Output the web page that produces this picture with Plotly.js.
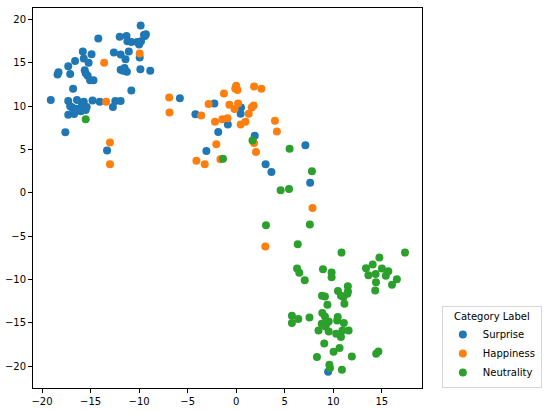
<!DOCTYPE html>
<html>
<head>
<meta charset="utf-8">
<script src="https://cdn.plot.ly/plotly-3.0.1.min.js"></script>
<style>html,body{margin:0;padding:0;background:#fff;}#chart{width:550px;height:411px;}</style>
</head>
<body>
<div id="chart"></div>
<script>
const categories = ["Surprise", "Happiness", "Neutrality"];
const colors = ["#1f77b4", "#ff7f0e", "#2ca02c"];

const surpriseX = [-9.84,-14.2,-12.0,-11.3,-11.2,-10.8,-10.2,-10.0,-9.8,-9.5,-9.3,-9.4,-9.94,-12.6,-11.9,-11.06,-11.4,-15.8,-14.9,-15.7,-15.2,-16.6,-17.3,-17.1,-18.3,-18.4,-15.6,-15.5,-15.3,-15.05,-14.7,-11.9,-11.5,-11.26,-11.65,-9.87,-8.85,-10.8,-16.8,-19.1,-17.3,-16.4,-15.7,-14.8,-14.06,-12.45,-11.9,-17.1,-16.9,-16.5,-15.9,-15.4,-15.5,-16.0,-17.3,-16.7,-12.7,-17.6,-5.8,-4.2,-2.25,0.5,0.46,-0.86,-1.85,1.91,-3.07,7.13,3.03,3.63,7.62,9.47,-13.3];
const surpriseY = [19.3,17.8,18.0,18.1,17.5,17.4,17.4,17.1,17.5,18.2,18.3,18.1,15.6,16.2,15.96,16.3,15.4,16.3,16.0,15.5,15.0,15.2,14.6,13.7,13.9,13.65,14.15,13.8,13.5,13.0,13.0,14.2,14.4,13.96,14.07,14.27,14.07,11.8,12.0,10.7,10.6,10.7,10.5,10.66,10.5,10.6,10.6,10.0,9.86,9.7,10.1,9.9,9.55,9.4,9.0,9.1,9.9,7.0,10.9,9.08,10.3,9.86,9.12,7.9,7.01,6.59,4.82,5.48,3.29,2.41,1.18,-20.62,4.9];

const happinessX = [-9.94,-13.6,-13.4,-6.9,-6.87,-3.6,0.0,0.13,-0.1,1.84,2.6,-1.26,-2.84,-0.7,0.2,-0.17,1.6,1.8,1.29,-1.43,-0.9,-2.18,0.46,0.95,3.99,4.19,1.84,2.04,-2.05,-4.1,-3.24,-1.62,7.86,3.0,-13.0,-13.0];
const happinessY = [16.07,15.0,10.5,11.0,9.28,8.93,12.35,11.85,12.04,12.27,12.0,11.47,10.24,10.16,10.3,9.66,9.86,10.08,9.12,8.5,8.62,8.2,7.9,8.2,8.31,7.09,5.75,4.72,5.6,3.71,3.29,3.87,-1.75,-6.19,5.8,3.3];

const neutralityX = [-15.5,1.68,5.5,7.8,-1.36,4.58,5.44,3.07,7.59,6.34,10.85,17.39,14.75,13.37,14.06,13.62,14.36,15.01,15.67,15.41,14.4,16.55,16.05,6.27,6.5,7.06,8.94,9.83,9.83,11.5,10.48,11.51,11.45,14.32,10.79,11.05,11.15,8.84,9.14,9.4,5.74,6.4,5.74,7.55,8.87,9.14,8.81,9.37,9.53,10.46,10.4,11.09,8.48,9.53,9.2,10.3,10.79,10.95,11.58,9.07,10.03,10.65,14.42,14.65,8.32,11.91,9.6,9.66,10.89];
const neutralityY = [8.5,6.05,5.1,2.49,3.94,0.3,0.45,-3.73,-3.66,-5.92,-6.88,-6.88,-7.46,-8.68,-8.27,-9.49,-9.34,-8.73,-9.03,-9.57,-10.3,-9.95,-10.6,-8.73,-9.22,-10.08,-8.8,-9.19,-9.72,-10.78,-11.3,-11.37,-11.64,-11.26,-11.87,-12.02,-12.79,-11.87,-11.95,-12.9,-14.17,-14.55,-15.01,-14.37,-13.86,-14.25,-15.1,-14.94,-14.83,-14.32,-14.71,-15.01,-15.87,-15.98,-15.4,-16.25,-16.63,-15.87,-15.87,-17.36,-18.32,-17.89,-18.55,-18.28,-18.93,-18.86,-19.82,-20.2,-20.39];

const xs = [surpriseX, happinessX, neutralityX];
const ys = [surpriseY, happinessY, neutralityY];

const traces = categories.map((name, i) => ({
  type: "scatter",
  mode: "markers",
  name: name,
  x: xs[i],
  y: ys[i],
  marker: {color: colors[i], size: 8, line: {width: 0}}
}));

const axisCommon = {
  showgrid: false,
  zeroline: false,
  showline: true,
  mirror: true,
  linecolor: "#000",
  linewidth: 1,
  ticks: "outside",
  ticklen: 4,
  tickwidth: 1,
  tickcolor: "#000",
  tickfont: {family: "DejaVu Sans", size: 10, color: "#000"},
  automargin: false
};

const layout = {
  width: 550,
  height: 411,
  margin: {l: 33, r: 113, t: 8, b: 23, pad: 0},
  paper_bgcolor: "#fff",
  plot_bgcolor: "#fff",
  font: {family: "DejaVu Sans", size: 10, color: "#000"},
  xaxis: Object.assign({}, axisCommon, {range: [-20.93, 19.14], tickvals: [-20,-15,-10,-5,0,5,10,15]}),
  yaxis: Object.assign({}, axisCommon, {range: [-22.5, 21.32], tickvals: [-20,-15,-10,-5,0,5,10,15,20]}),
  showlegend: true,
  legend: {
    x: 1.051, y: 0, xanchor: "left", yanchor: "bottom",
    bgcolor: "#fff",
    bordercolor: "#d6d6d6",
    borderwidth: 1,
    font: {family: "DejaVu Sans", size: 10, color: "#000"},
    title: {text: "Category Label", font: {family: "DejaVu Sans", size: 10, color: "#000"}, side: "top center"},
    tracegroupgap: 0,
    itemwidth: 30
  }
};

Plotly.newPlot("chart", traces, layout, {staticPlot: true, displayModeBar: false});
</script>
</body>
</html>
